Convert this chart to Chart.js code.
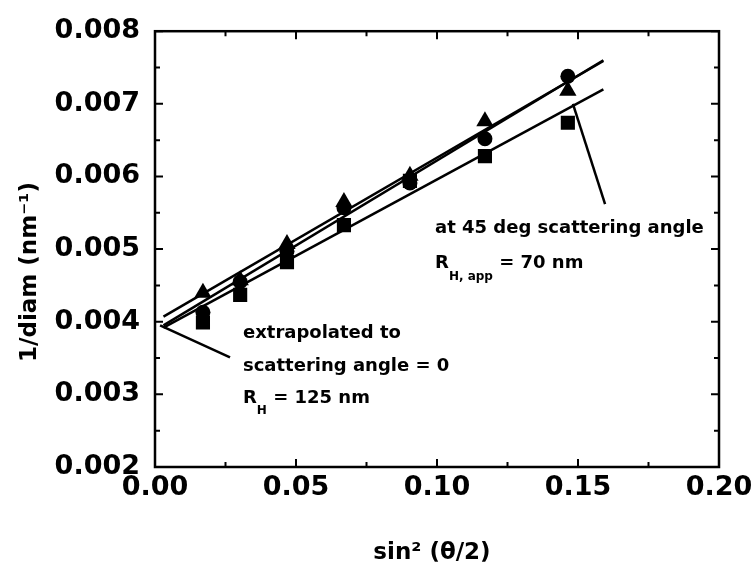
<!DOCTYPE html>
<html>
<head>
<meta charset="utf-8">
<title>1/diam vs sin²(θ/2)</title>
<script src="https://cdn.jsdelivr.net/npm/chart.js@4/dist/chart.umd.min.js"></script>
<style>
  html, body { margin: 0; padding: 0; background: #fff; }
  #wrap { width: 754px; height: 576px; }
</style>
</head>
<body>
<div id="wrap"><canvas id="chart" width="754" height="576"></canvas></div>
<script>
// scattering vector term sin^2(theta/2) for 15..45 deg
const sinSq = [0.0170, 0.0302, 0.0468, 0.0670, 0.0904, 0.1170, 0.1464];

// 1/diam (nm^-1) measured at each angle, three runs
const squares   = [0.00399, 0.00437, 0.00482, 0.00533, 0.00594, 0.00628, 0.00674];
const circles   = [0.00413, 0.00455, 0.00497, 0.00557, 0.00591, 0.00652, 0.00738];
const triangles = [0.00440, 0.00457, 0.00507, 0.00565, 0.00601, 0.00676, 0.00718];

// straight-line fits, end points on the x range below
const fitX          = [0.003, 0.159];
const fitSquares    = [0.00392, 0.00720];
const fitCircles    = [0.00395, 0.00760];
const fitTriangles  = [0.00407, 0.00759];

// leader lines for the two notes
const leaderZeroX = [0.0018, 0.0266];
const leaderZeroY = [0.00395, 0.00351];
const leader45X   = [0.1482, 0.1596];
const leader45Y   = [0.00700, 0.00562];

// axis ranges and steps
const xRange = [0, 0.20];
const yRange = [0.002, 0.008];
const xMajor = 0.05, xMinor = 0.025;
const yMajor = 0.001, yMinor = 0.0005;

const toPoints = (xs, ys) => xs.map((x, i) => ({ x: x, y: ys[i] }));

const isMajor = (v, step) => Math.abs(v / step - Math.round(v / step)) < 1e-6;

const TITLE_FONT = 'bold 23px "DejaVu Sans"';
const NOTE_FONT = 'bold 18px "DejaVu Sans"';
const SUB_FONT = 'bold 12px "DejaVu Sans"';

// frame, inward tick marks on all four sides, axis titles and notes
const framePlugin = {
  id: 'frame',
  afterDraw(chart) {
    const ctx = chart.ctx;
    const area = chart.chartArea;
    const xs = chart.scales.x, ys = chart.scales.y;
    ctx.save();
    ctx.strokeStyle = '#000';
    ctx.lineWidth = 2.5;
    ctx.strokeRect(area.left, area.top, area.right - area.left, area.bottom - area.top);

    ctx.lineWidth = 2;
    ctx.beginPath();
    xs.ticks.forEach(t => {
      const px = xs.getPixelForValue(t.value);
      const len = isMajor(t.value, xMajor) ? 8 : 5;
      ctx.moveTo(px, area.bottom); ctx.lineTo(px, area.bottom - len);
      ctx.moveTo(px, area.top);    ctx.lineTo(px, area.top + len);
    });
    ys.ticks.forEach(t => {
      const py = ys.getPixelForValue(t.value);
      const len = isMajor(t.value, yMajor) ? 8 : 5;
      ctx.moveTo(area.left, py);  ctx.lineTo(area.left + len, py);
      ctx.moveTo(area.right, py); ctx.lineTo(area.right - len, py);
    });
    ctx.stroke();

    // axis titles
    ctx.fillStyle = '#000';
    ctx.font = TITLE_FONT;
    ctx.textAlign = 'center';
    ctx.textBaseline = 'middle';
    ctx.fillText('sin² (θ/2)', 432, 553);
    ctx.save();
    ctx.translate(30, 272);
    ctx.rotate(-Math.PI / 2);
    ctx.fillText('1/diam (nm⁻¹)', 0, 0);
    ctx.restore();

    // notes
    ctx.textAlign = 'left';
    const note = (x, y, parts) => {
      let px = xs.getPixelForValue(x);
      const py = ys.getPixelForValue(y);
      parts.forEach(p => {
        ctx.font = p.sub ? SUB_FONT : NOTE_FONT;
        ctx.fillText(p.text, px, p.sub ? py + 13 : py);
        px += ctx.measureText(p.text).width;
      });
    };
    note(0.0312, 0.00384, [{ text: 'extrapolated to' }]);
    note(0.0312, 0.00339, [{ text: 'scattering angle = 0' }]);
    note(0.0312, 0.00295, [{ text: 'R' }, { text: 'H', sub: true }, { text: ' = 125 nm' }]);
    note(0.0993, 0.00528, [{ text: 'at 45 deg scattering angle' }]);
    note(0.0993, 0.00480, [{ text: 'R' }, { text: 'H, app', sub: true }, { text: ' = 70 nm' }]);
    ctx.restore();
  }
};

const lineSet = (xs, ys, width) => ({
  data: toPoints(xs, ys),
  showLine: true,
  borderColor: '#000',
  borderWidth: width,
  pointRadius: 0,
  fill: false
});

const markerSet = (ys, style, radius) => ({
  data: toPoints(sinSq, ys),
  pointStyle: style,
  pointRadius: radius,
  backgroundColor: '#000',
  borderColor: '#000',
  borderWidth: 0
});

new Chart(document.getElementById('chart').getContext('2d'), {
  type: 'scatter',
  data: {
    datasets: [
      lineSet(fitX, fitSquares, 2.5),
      lineSet(fitX, fitCircles, 2.5),
      lineSet(fitX, fitTriangles, 2.5),
      lineSet(leaderZeroX, leaderZeroY, 2.5),
      lineSet(leader45X, leader45Y, 2.5),
      markerSet(circles, 'circle', 7.5),
      markerSet(triangles, 'triangle', 10),
      markerSet(squares, 'rect', 10)
    ]
  },
  options: {
    responsive: false,
    animation: false,
    layout: { padding: { left: 0, top: 30, right: 35, bottom: 0 } },
    plugins: { legend: { display: false }, tooltip: { enabled: false } },
    scales: {
      x: {
        type: 'linear',
        min: xRange[0],
        max: xRange[1],
        // fixed axis band; let the last label hang into the right margin
        afterFit(scale) { scale.height = 109; scale.paddingRight = 0; },
        border: { display: false },
        grid: { display: true, drawOnChartArea: false, drawTicks: false },
        ticks: {
          stepSize: xMinor,
          autoSkip: false,
          maxRotation: 0,
          padding: 5,
          color: '#000',
          font: { family: 'DejaVu Sans', size: 27, weight: 'bold' },
          callback: v => isMajor(v, xMajor) ? v.toFixed(2) : ''
        }
      },
      y: {
        type: 'linear',
        min: yRange[0],
        max: yRange[1],
        afterFit(scale) { scale.width = 155; },
        border: { display: false },
        grid: { display: true, drawOnChartArea: false, drawTicks: false },
        ticks: {
          stepSize: yMinor,
          autoSkip: false,
          padding: 15,
          color: '#000',
          font: { family: 'DejaVu Sans', size: 27, weight: 'bold' },
          callback: v => isMajor(v, yMajor) ? v.toFixed(3) : ''
        }
      }
    }
  },
  plugins: [framePlugin]
});
</script>
</body>
</html>
